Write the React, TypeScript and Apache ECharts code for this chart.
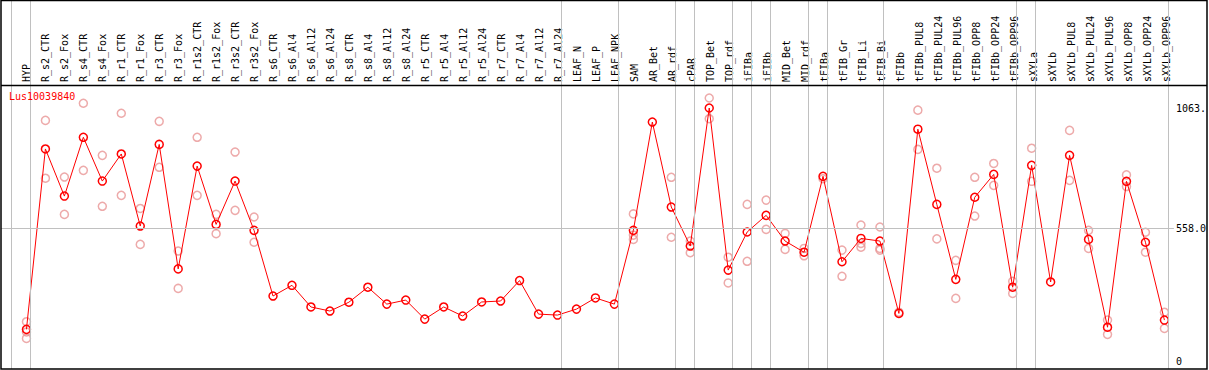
import React, { useEffect, useRef } from "react";
import * as echarts from "echarts";

const geneId = "Lus10039840";

const categories = [
  "HYP", "R_s2_CTR", "R_s2_Fox", "R_s4_CTR", "R_s4_Fox", "R_r1_CTR", "R_r1_Fox", "R_r3_CTR", "R_r3_Fox",
  "R_r1s2_CTR", "R_r1s2_Fox", "R_r3s2_CTR", "R_r3s2_Fox", "R_s6_CTR", "R_s6_Al4", "R_s6_Al12", "R_s6_Al24",
  "R_s8_CTR", "R_s8_Al4", "R_s8_Al12", "R_s8_Al24", "R_r5_CTR", "R_r5_Al4", "R_r5_Al12", "R_r5_Al24",
  "R_r7_CTR", "R_r7_Al4", "R_r7_Al12", "R_r7_Al24", "LEAF_N", "LEAF_P", "LEAF_NPK", "SAM", "AR_Bet", "AR_rdf",
  "cPAR", "TOP_Bet", "TOP_rdf", "iFIBa", "iFIBb", "MID_Bet", "MID_rdf", "tFIBa", "tFIB_Gr", "tFIB_Li", "tFIB_Bi",
  "tFIBb", "tFIBb_PUL8", "tFIBb_PUL24", "tFIBb_PUL96", "tFIBb_OPP8", "tFIBb_OPP24", "tFIBb_OPP96", "sXYLa",
  "sXYLb", "sXYLb_PUL8", "sXYLb_PUL24", "sXYLb_PUL96", "sXYLb_OPP8", "sXYLb_OPP24", "sXYLb_OPP96",
];

const means = [
  133, 891, 693, 940, 756, 870, 567, 910, 387, 819, 574, 756, 549, 273, 318, 227, 210, 247, 310, 239, 256,
  176, 227, 189, 248, 252, 338, 197, 193, 218, 265, 239, 549, 1004, 647, 483, 1063, 382, 542, 612, 504, 457,
  776, 417, 515, 504, 200, 974, 658, 343, 688, 784, 310, 822, 332, 864, 511, 142, 755, 499, 172,
];

const replicates: number[][] = [
  [165, 122, 95], [1011, 768], [773, 616], [1083, 801], [864, 650], [1041, 696], [641, 490], [1007, 814],
  [462, 305], [940, 696], [616, 535], [878, 633], [605, 499],
  [], [], [], [], [], [], [], [], [], [], [], [], [], [], [], [], [], [], [],
  [618, 529, 511], [], [772, 520], [504, 455], [1105, 1018], [436, 328], [658, 419], [676, 553], [536, 469],
  [473, 442], [766], [466, 356], [571, 494, 478], [563, 473, 466], [205], [1054, 889], [810, 513], [423, 263],
  [772, 609], [830, 738], [335, 284], [894, 755], [], [969, 759], [549, 473], [172, 112], [782, 733],
  [541, 457], [205, 137],
];

// separators are drawn after these category indices
const groupEnds = [-1, 0, 28, 31, 34, 35, 37, 38, 39, 41, 42, 45, 52, 53, 60];

const yTickValues = [0, 558, 1063];
const yTickLabels = ["0", "558.0", "1063."];
const gridValue = 558;

const MONO = "'DejaVu Sans Mono', 'Liberation Mono', monospace";

export default function App() {
  const ref = useRef<HTMLDivElement>(null);
  useEffect(() => {
    if (!ref.current) return;
    const chart = echarts.init(ref.current, undefined, { renderer: "svg" });
    const repData: number[][] = [];
    replicates.forEach((arr, i) => arr.forEach((v) => repData.push([i, v])));
    const meanData = means.map((v, i) => [i, v]);
    const option = {
      animation: false,
      backgroundColor: "#fff",
      title: {
        text: geneId,
        left: 9,
        top: 91,
        padding: 0,
        textStyle: { color: "#ff0000", fontSize: 10, fontWeight: "normal", fontFamily: MONO },
      },
      grid: [
        { left: 1, top: 0, width: 1175, height: 369 },
        { left: 17, top: 85, width: 1159, height: 284 },
      ],
      xAxis: [
        { gridIndex: 0, type: "value", min: -1.342, max: 60.5, show: false },
        {
          gridIndex: 1,
          type: "category",
          position: "top",
          data: categories,
          axisLine: { show: false },
          axisTick: { show: false },
          splitLine: { show: false },
          axisLabel: {
            interval: 0,
            rotate: 90,
            margin: 3,
            fontSize: 10,
            fontFamily: MONO,
            color: "#000",
          },
        },
      ],
      yAxis: [
        {
          gridIndex: 0,
          type: "value",
          position: "right",
          min: -33.6,
          max: 1516.8,
          axisLine: { show: false },
          axisTick: { show: false },
          splitLine: { show: false },
          axisLabel: {
            customValues: yTickValues,
            margin: 2,
            fontSize: 10,
            fontFamily: MONO,
            color: "#000",
            formatter: (v: number) => {
              const k = yTickValues.indexOf(v);
              return k >= 0 ? yTickLabels[k] : "";
            },
          },
        },
        { gridIndex: 1, type: "value", show: false },
      ],
      graphic: [
        {
          type: "rect",
          shape: { x: 1, y: 0.5, width: 1206, height: 368.5 },
          style: { fill: "none", stroke: "#000", lineWidth: 1.5 },
          silent: true,
          z: 100,
        },
        {
          type: "line",
          shape: { x1: 1, y1: 85.5, x2: 1207, y2: 85.5 },
          style: { stroke: "#000", lineWidth: 1.5 },
          silent: true,
          z: 100,
        },
      ],
      series: [
        {
          type: "line",
          xAxisIndex: 0,
          yAxisIndex: 0,
          data: [],
          silent: true,
          markLine: {
            silent: true,
            symbol: "none",
            label: { show: false },
            lineStyle: { color: "#c0c0c0", width: 1, type: "solid" },
            data: [
              ...groupEnds.map((g) => ({ xAxis: g + 0.2 })),
              { yAxis: gridValue },
            ],
          },
        },
        {
          type: "scatter",
          xAxisIndex: 0,
          yAxisIndex: 0,
          data: repData,
          symbol: "circle",
          symbolSize: 8,
          itemStyle: { color: "rgba(0,0,0,0)", borderColor: "#e99595", borderWidth: 1.5 },
          z: 3,
        },
        {
          type: "line",
          xAxisIndex: 0,
          yAxisIndex: 0,
          data: meanData,
          symbol: "circle",
          symbolSize: 8,
          showAllSymbol: true,
          lineStyle: { color: "#ff0000", width: 1 },
          itemStyle: { color: "rgba(0,0,0,0)", borderColor: "#ff0000", borderWidth: 1.5 },
          z: 4,
        },
      ],
    };
    chart.setOption(option as any);
    return () => chart.dispose();
  }, []);
  return (
    <div
      ref={ref}
      style={{ position: "absolute", left: 0, top: 0, width: 1209, height: 370 }}
    />
  );
}
